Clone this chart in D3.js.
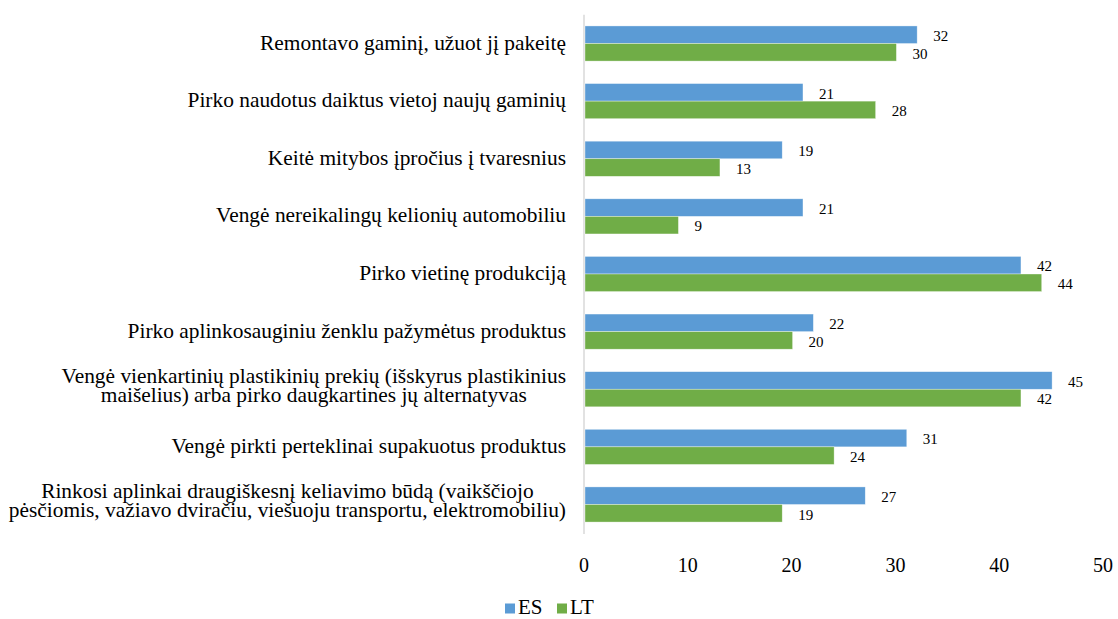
<!DOCTYPE html>
<html>
<head>
<meta charset="utf-8">
<script src="https://cdn.jsdelivr.net/npm/d3@7/dist/d3.min.js"></script>
<style>
  html, body { margin: 0; padding: 0; background: #fff; }
  svg { display: block; }
</style>
</head>
<body>
<svg id="chart" width="1118" height="619" style="font-family: 'Liberation Serif', 'Times New Roman', Times, 'DejaVu Serif', serif;"></svg>
<script>
const categories = [
  ["Remontavo gaminį, užuot jį pakeitę"],
  ["Pirko naudotus daiktus vietoj naujų gaminių"],
  ["Keitė mitybos įpročius į tvaresnius"],
  ["Vengė nereikalingų kelionių automobiliu"],
  ["Pirko vietinę produkciją"],
  ["Pirko aplinkosauginiu ženklu pažymėtus produktus"],
  ["Vengė vienkartinių plastikinių prekių (išskyrus plastikinius", "maišelius) arba pirko daugkartines jų alternatyvas"],
  ["Vengė pirkti perteklinai supakuotus produktus"],
  ["Rinkosi aplinkai draugiškesnį keliavimo būdą (vaikščiojo", "pėsčiomis, važiavo dviračiu, viešuoju transportu, elektromobiliu)"]
];
const seriesNames = ["ES", "LT"];
const valuesES = [32, 21, 19, 21, 42, 22, 45, 31, 27];
const valuesLT = [30, 28, 13, 9, 44, 20, 42, 24, 19];
const xTicks = [0, 10, 20, 30, 40, 50];
const colors = { ES: "#5B9BD5", LT: "#70AD47" };

const FONT = "'Liberation Serif', 'Times New Roman', Times, 'DejaVu Serif', serif";
const rows = categories.map((c, i) => ({ key: String(i), lines: c, ES: valuesES[i], LT: valuesLT[i] }));

const svg = d3.select("#chart");
const x = d3.scaleLinear().domain([0, 50]).range([585, 1104]);
const y = d3.scaleBand().domain(rows.map(d => d.key)).range([14.7, 533.3])
  .paddingInner(0.39).paddingOuter(0.195);
const ys = d3.scaleBand().domain(seriesNames).range([0, y.bandwidth()]).padding(0);

// axis line
svg.append("line")
  .attr("x1", x(0) - 1).attr("x2", x(0) - 1)
  .attr("y1", 14.7).attr("y2", 534)
  .attr("stroke", "#D9D9D9").attr("stroke-width", 1.5);

// bars
const g = svg.append("g");
const groups = g.selectAll("g.cat").data(rows).join("g")
  .attr("class", "cat")
  .attr("transform", d => `translate(0,${y(d.key)})`);

groups.selectAll("rect").data(d => seriesNames.map(s => ({ s, v: d[s] }))).join("rect")
  .attr("x", x(0))
  .attr("y", d => ys(d.s))
  .attr("width", d => x(d.v) - x(0))
  .attr("height", ys.bandwidth())
  .attr("fill", d => colors[d.s])
  .attr("stroke", "#ffffff").attr("stroke-width", 0.6).attr("stroke-opacity", 0.6);

groups.selectAll("text.val").data(d => seriesNames.map(s => ({ s, v: d[s] }))).join("text")
  .attr("class", "val")
  .attr("font-family", FONT)
  .attr("x", d => x(d.v) + 16)
  .attr("y", d => ys(d.s) + ys.bandwidth() / 2 + 1)
  .attr("dy", "0.35em")
  .attr("font-size", 15)
  .text(d => d.v);

// category labels
const labelRight = 566;
const lineH = 19;
rows.forEach(d => {
  const cy = y(d.key) + y.bandwidth() / 2;
  const t = svg.append("text").attr("font-size", 21.4).attr("font-family", FONT);
  const n = d.lines.length;
  const off = n === 1 ? 6 : 3;
  const spans = d.lines.map((ln, j) => t.append("tspan")
    .attr("y", cy + (j - (n - 1) / 2) * lineH + off)
    .text(ln));
  if (n === 1) {
    t.attr("text-anchor", "end");
    spans[0].attr("x", labelRight);
  } else {
    const widths = spans.map(s => s.node().getComputedTextLength());
    const maxW = d3.max(widths);
    const cx = labelRight - maxW / 2;
    t.attr("text-anchor", "middle");
    spans.forEach(s => s.attr("x", cx));
  }
});

// x tick labels
svg.append("g").selectAll("text").data(xTicks).join("text")
  .attr("font-family", FONT)
  .attr("x", d => x(d) - 1)
  .attr("y", 571.5)
  .attr("text-anchor", "middle")
  .attr("font-size", 20)
  .text(d => d);

// legend
const legend = svg.append("g");
const legX = { ES: 505, LT: 557 };
seriesNames.forEach(s => {
  legend.append("rect")
    .attr("x", legX[s]).attr("y", 603.5)
    .attr("width", 10).attr("height", 10)
    .attr("fill", colors[s]);
  legend.append("text")
    .attr("font-family", FONT)
    .attr("x", legX[s] + 13).attr("y", 614)
    .attr("font-size", 21)
    .text(s);
});
</script>
</body>
</html>
